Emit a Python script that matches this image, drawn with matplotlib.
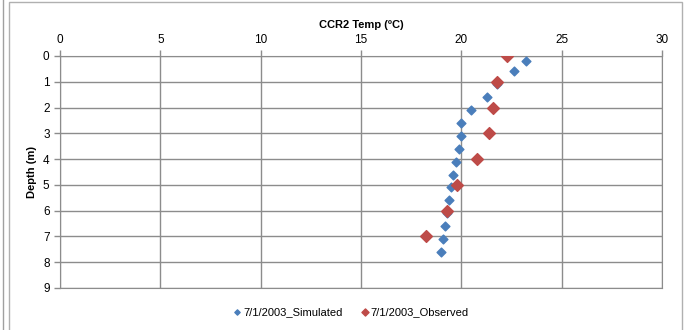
import matplotlib.pyplot as plt
from matplotlib.patches import Rectangle
from matplotlib.lines import Line2D

# data
sim_temp = [23.2, 22.6, 21.8, 21.3, 20.5, 20.0, 20.0, 19.9, 19.75, 19.6, 19.5, 19.4, 19.3, 19.2, 19.07, 18.97]
sim_depth = [0.2, 0.6, 1.1, 1.6, 2.1, 2.6, 3.1, 3.6, 4.1, 4.6, 5.1, 5.6, 6.1, 6.6, 7.1, 7.6]
obs_temp = [22.3, 21.8, 21.6, 21.4, 20.8, 19.8, 19.3, 18.25]
obs_depth = [0, 1, 2, 3, 4, 5, 6, 7]

blue = "#4a7ebb"
red = "#be4b48"
grid_col = "#8c8c8c"
font = "Liberation Sans"

fig = plt.figure(figsize=(6.87, 3.30), dpi=100)
W, H = 687, 330
# chart frame
fig.patches.append(Rectangle((8.5 / W, -0.1), (682 - 8.5) / W, (H - 2.5) / H + 0.1,
                             transform=fig.transFigure, fill=False, ec="#b0b0b0", lw=1))
fig.lines.append(Line2D([2.5 / W, 2.5 / W], [0, 1], transform=fig.transFigure, color="#a0a0a0", lw=1))

ax = fig.add_axes([60 / W, 1 - 288 / H, (662 - 60) / W, (288 - 56) / H])
ax.set_xlim(0, 30)
ax.set_ylim(9, 0)
ax.set_xticks(range(0, 31, 5))
ax.set_yticks(range(0, 10))
ax.xaxis.tick_top()
ax.xaxis.set_label_position("top")
ax.grid(True, color=grid_col, lw=1)
ax.set_axisbelow(True)
for s in ax.spines.values():
    s.set_color(grid_col)
ax.tick_params(colors=grid_col, labelcolor="black", labelsize=8.5, length=4, width=1)
for lab in ax.get_xticklabels() + ax.get_yticklabels():
    lab.set_family(font)

ax.set_xlabel("CCR2 Temp (ºC)", fontsize=8, fontweight="bold", family=font, labelpad=4)
ax.set_ylabel("Depth (m)", fontsize=8, fontweight="bold", family=font, labelpad=4)

ax.scatter(sim_temp, sim_depth, marker="D", s=20, color=blue, zorder=3, label="7/1/2003_Simulated")
ax.scatter(obs_temp, obs_depth, marker="D", s=36, color=red, zorder=4, label="7/1/2003_Observed")

leg = fig.legend(loc="center", bbox_to_anchor=(350 / W, 1 - 312 / H), ncol=2, frameon=False,
                 prop={"family": font, "size": 8}, handletextpad=0.05, columnspacing=1.5,
                 markerscale=0.6, handlelength=1)

fig.savefig("out.png", dpi=100)
